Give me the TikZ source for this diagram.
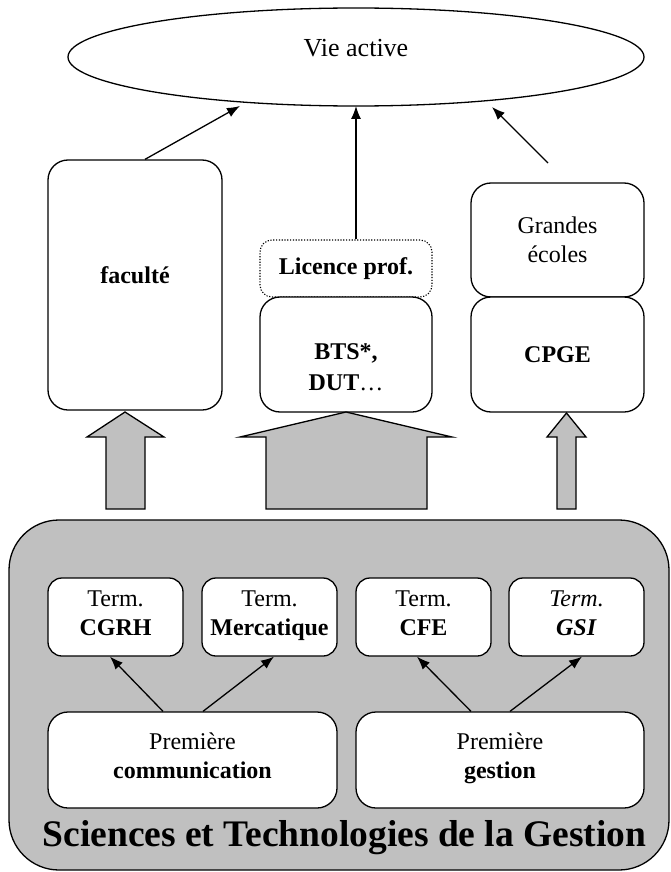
\documentclass[tikz,border=0pt]{standalone}
\usepackage{fontspec}
\setmainfont{Liberation Serif}
\usepackage{tikz}
\usetikzlibrary{shapes.geometric}
\usetikzlibrary{arrows.meta}
\definecolor{fondgris}{RGB}{192,192,192}
\tikzset{
   every node/.style={font=\fontsize{24}{29}\selectfont},
   trait/.style={line width=1.3pt, draw=black},
   fleche/.style={trait, -{Latex[length=13pt,width=10pt]}},
   grosse/.style={trait, fill=fondgris},
   boite/.style={trait, fill=white, rounded corners=20pt, align=center,
      inner sep=2pt},
   petiteboite/.style={boite, rounded corners=14pt,
      minimum width=135pt, minimum height=78pt},
   pointille/.style={boite, rounded corners=12pt,
      dash pattern=on 1.2pt off 1.6pt, line width=1.1pt},
    }

\begin{document}
\begin{tikzpicture}[x=1pt,y=-1pt]
       \useasboundingbox (0,0) rectangle (671,872);
       % haut
       \node[ellipse, trait, minimum width=576pt, minimum height=98pt, inner sep=0pt] (vie) at (356,57) {};
       \node[font=\fontsize{26}{30}\selectfont] (vietxt) at (356,48) {Vie active};
       \node[boite, minimum width=174pt, minimum height=250pt] (fac) at (135,285) {\rule[-20pt]{0pt}{0pt}\textbf{faculté}};
       \node[pointille, minimum width=172pt, minimum height=57pt] (lic) at (346,268.5) {\textbf{Licence prof.}};
       \node[boite, minimum width=172pt, minimum height=115pt] (bts) at (346,354.5) {\rule{0pt}{42pt}\textbf{BTS*,}\\[2pt]\textbf{DUT}…};
       \node[boite, minimum width=173pt, minimum height=114pt] (gde) at (557.5,240) {Grandes\\écoles};
       \node[boite, minimum width=173pt, minimum height=115pt] (cpge) at (557.5,354.5) {\textbf{CPGE}};
       \coordinate (vieA) at (240,106);
       \coordinate (vieB) at (356,106);
       \coordinate (vieC) at (492,107);
       \coordinate (gdeA) at (548,163);
       \draw[fleche] ([xshift=10pt]fac.north) -- (vieA);
       \draw[fleche] ([xshift=10pt]lic.north) -- (vieB);
       \draw[fleche] (gdeA) -- (vieC);
       % grosses fleches
       \draw[grosse] (106,509) -- (106,437) -- (87,437) -- (125,412) -- (164,437) -- (145,437) -- (145,509) -- cycle;
       \draw[grosse] (266,509) -- (266,437) -- (240,437) -- (346,412) -- (452,437) -- (427,437) -- (427,509) -- cycle;
       \draw[grosse] (557,509) -- (557,437) -- (547,437) -- (566.5,413) -- (586,437) -- (576,437) -- (576,509) -- cycle;
       % bas
       \draw[grosse, rounded corners=50pt] (9,520) rectangle (669,870);
       \node[petiteboite] (cgrh) at (115.5,617) {Term.\\\textbf{CGRH}\strut};
       \node[petiteboite] (merc) at (269.5,617) {Term.\\\textbf{Mercatique}\strut};
       \node[petiteboite] (cfe) at (423.5,617) {Term.\\\textbf{CFE}\strut};
       \node[petiteboite] (gsi) at (576.5,617) {\textit{Term.}\\\textbf{\textit{GSI}}\strut};
       \node[boite, minimum width=289pt, minimum height=96pt] (pcom) at (192.5,760) {Première\\\textbf{communication}\strut};
       \node[boite, minimum width=288pt, minimum height=96pt] (pges) at (500,760) {Première\\\textbf{gestion}\strut};
       \draw[fleche] ([xshift=-29.5pt]pcom.north) -- ([xshift=-5.5pt]cgrh.south);
       \draw[fleche] ([xshift=10.5pt]pcom.north) -- ([xshift=4.5pt]merc.south);
       \draw[fleche] ([xshift=-29pt]pges.north) -- ([xshift=-6.5pt]cfe.south);
       \draw[fleche] ([xshift=10pt]pges.north) -- ([xshift=5.5pt]gsi.south);
       \node[font=\fontsize{37.5}{40}\selectfont\bfseries] (stg) at (344.5,838) {Sciences et Technologies de la Gestion};
   \end{tikzpicture}
\end{document}
